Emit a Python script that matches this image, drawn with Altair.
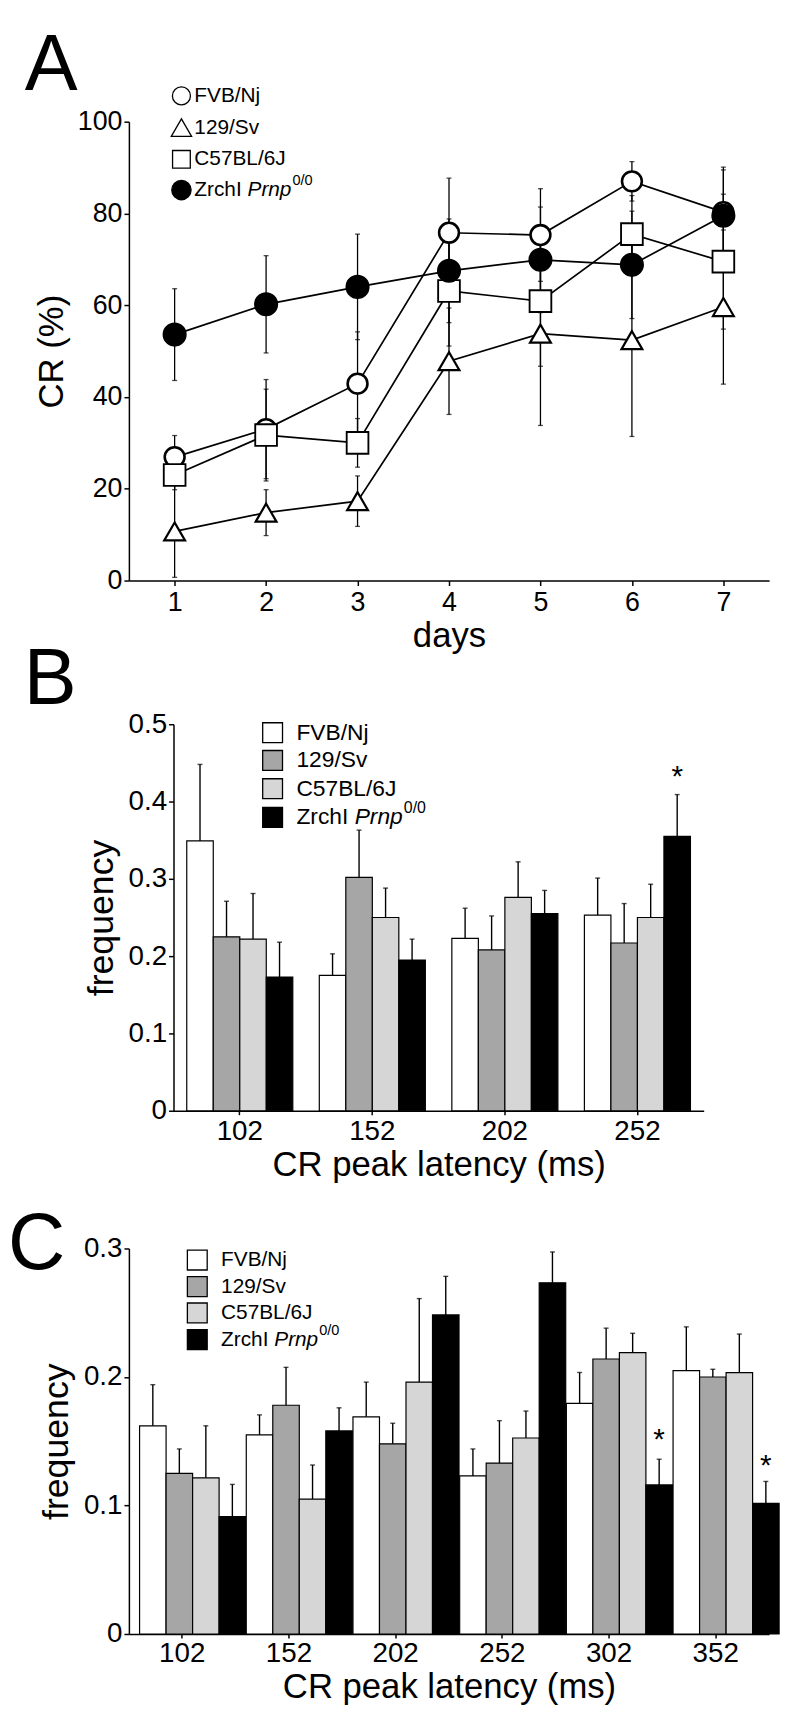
import altair as alt
import pandas as pd

FONT = "Liberation Sans"
strains = ["FVB/Nj", "129/Sv", "C57BL/6J", "ZrchI Prnp0/0"]
legend_plain = ["FVB/Nj", "129/Sv", "C57BL/6J", "ZrchI "]

# ---------------- Panel A data ----------------
days = [1, 2, 3, 4, 5, 6, 7]
a_fvb = [26.9, 33.0, 42.9, 75.8, 75.3, 87.0, 80.3]
a_fvb_err = [4.7, 10.8, 11.3, 11.9, 10.1, 4.3, 9.8]
a_129 = [10.7, 14.8, 17.3, 47.8, 53.8, 52.4, 59.6]
a_129_err = [10.0, 5.0, 5.5, 11.6, 20.0, 21.0, 16.8]
a_c57 = [23.0, 31.7, 30.0, 63.1, 60.9, 75.5, 69.5]
a_c57_err = [3.2, 10.0, 5.3, 12.0, 14.2, 8.4, 14.7]
a_zr = [53.6, 60.2, 64.0, 67.5, 69.9, 68.8, 79.5]
a_zr_err = [10.0, 10.6, 11.5, 11.3, 11.5, 11.7, 10.0]
a_yticks = [0, 20, 40, 60, 80, 100]

# ---------------- Panel B data ----------------
b_groups = ["102", "152", "202", "252"]
b_fvb = [0.349, 0.175, 0.223, 0.253]
b_fvb_err = [0.099, 0.028, 0.039, 0.048]
b_129 = [0.225, 0.302, 0.208, 0.217]
b_129_err = [0.046, 0.061, 0.044, 0.051]
b_c57 = [0.222, 0.250, 0.276, 0.250]
b_c57_err = [0.059, 0.038, 0.046, 0.043]
b_zr = [0.173, 0.195, 0.255, 0.355]
b_zr_err = [0.045, 0.027, 0.030, 0.054]
b_yticks = [0, 0.1, 0.2, 0.3, 0.4, 0.5]
b_star_group = ["252"]
b_star_y = [0.442]

# ---------------- Panel C data ----------------
c_groups = ["102", "152", "202", "252", "302", "352"]
c_fvb = [0.162, 0.155, 0.169, 0.123, 0.1795, 0.205]
c_fvb_err = [0.032, 0.0155, 0.027, 0.021, 0.024, 0.034]
c_129 = [0.125, 0.178, 0.148, 0.133, 0.214, 0.200]
c_129_err = [0.019, 0.0295, 0.016, 0.033, 0.024, 0.006]
c_c57 = [0.1215, 0.105, 0.196, 0.1525, 0.219, 0.2034]
c_c57_err = [0.0405, 0.0265, 0.065, 0.021, 0.015, 0.030]
c_zr = [0.0914, 0.158, 0.2483, 0.2733, 0.116, 0.1017]
c_zr_err = [0.025, 0.018, 0.030, 0.024, 0.020, 0.017]
c_yticks = [0, 0.1, 0.2, 0.3]
c_star_group = ["302", "352"]
c_star_y = [0.157, 0.137]

bar_fills = ["white", "#a6a6a6", "#d6d6d6", "black"]

# ======================= Panel A =======================
rows = []
for s, vals, errs in zip(strains, [a_fvb, a_129, a_c57, a_zr],
                         [a_fvb_err, a_129_err, a_c57_err, a_zr_err]):
    for d, v, e in zip(days, vals, errs):
        rows.append({"strain": s, "day": d, "cr": v, "lo": max(v - e, 0), "hi": v + e})
dfA = pd.DataFrame(rows)

A_W, A_H = 646, 463
xA = alt.X("day:Q", scale=alt.Scale(domain=[0.5, 7.5], nice=False, zero=False),
           axis=alt.Axis(values=days, title="days", format="d", labelFontSize=27,
                         titleFontSize=35, tickSize=5, labelPadding=4, titlePadding=4))
yscaleA = alt.Scale(domain=[0, 100], nice=False)
yaxisA = alt.Axis(values=a_yticks, title="CR (%)", labelFontSize=27, titleFontSize=35,
                  tickSize=5, labelPadding=2, titlePadding=8)

shape_sc = alt.Scale(domain=strains, range=["circle", "triangle-up", "square", "circle"])
fill_sc = alt.Scale(domain=strains, range=["white", "white", "white", "black"])
size_sc = alt.Scale(domain=strains, range=[400, 520, 400, 470])
sw_sc = alt.Scale(domain=strains, range=[2.6, 1.5, 1.5, 1.0])

baseA = alt.Chart(dfA)
errA = baseA.mark_rule(color="black", strokeWidth=1.3).encode(
    x=xA, y=alt.Y("lo:Q", scale=yscaleA, axis=yaxisA, title="CR (%)"), y2="hi:Q")
capLoA = baseA.mark_tick(orient="horizontal", size=5, thickness=1.3, color="black").encode(
    x=xA, y=alt.Y("lo:Q", scale=yscaleA, axis=yaxisA, title="CR (%)"))
capHiA = baseA.mark_tick(orient="horizontal", size=5, thickness=1.3, color="black").encode(
    x=xA, y=alt.Y("hi:Q", scale=yscaleA, axis=yaxisA, title="CR (%)"))
lineA = baseA.mark_line(color="black", strokeWidth=1.7).encode(
    x=xA, y=alt.Y("cr:Q", scale=yscaleA, axis=yaxisA, title="CR (%)"), detail="strain:N")
ptsA = baseA.mark_point(filled=True, opacity=1, fillOpacity=1).encode(
    x=xA, y=alt.Y("cr:Q", scale=yscaleA, axis=yaxisA, title="CR (%)"),
    shape=alt.Shape("strain:N", scale=shape_sc, legend=None),
    fill=alt.Fill("strain:N", scale=fill_sc, legend=None),
    size=alt.Size("strain:N", scale=size_sc, legend=None),
    strokeWidth=alt.StrokeWidth("strain:N", scale=sw_sc, legend=None),
    stroke=alt.value("black"))


def letter(ch, x, y, baseline="alphabetic"):
    return alt.Chart(pd.DataFrame({"t": [ch]})).mark_text(
        font=FONT, fontSize=80, align="left", baseline=baseline, color="black"
    ).encode(text="t:N", x=alt.value(x), y=alt.value(y))


def text_at(txt, x, y, size, style="normal", baseline="middle"):
    return alt.Chart(pd.DataFrame({"t": [txt]})).mark_text(
        font=FONT, fontSize=size, align="left", baseline=baseline, color="black",
        fontStyle=style
    ).encode(text="t:N", x=alt.value(x), y=alt.value(y))


def zr_label(x, y, size):
    w_plain = 2.556 * size
    w_ital = 2.112 * size
    return [
        text_at(legend_plain[3], x, y, size),
        text_at("Prnp", x + w_plain, y, size, style="italic"),
        text_at("0/0", x + w_plain + w_ital + 1, y - 0.42 * size, 0.7 * size),
    ]


legA_layers = []
legA_rows = [-26, 6, 38, 69]
legA_shapes = ["circle", "triangle-up", "square", "circle"]
legA_fill = ["white", "white", "white", "black"]
legA_size = [330, 420, 320, 380]
for i in range(4):
    legA_layers.append(
        alt.Chart(pd.DataFrame({"s": [strains[i]]})).mark_point(
            shape=legA_shapes[i], filled=True, fill=legA_fill[i], stroke="black",
            strokeWidth=1.3, size=legA_size[i], opacity=1
        ).encode(x=alt.value(53), y=alt.value(legA_rows[i]))
    )
    if i < 3:
        legA_layers.append(text_at(legend_plain[i], 66, legA_rows[i], 21))
    else:
        legA_layers.extend(zr_label(66, legA_rows[i], 21))

chA = alt.layer(errA, capLoA, capHiA, lineA, ptsA, *legA_layers,
                letter("A", -105, -95, baseline="top")).properties(width=A_W, height=A_H)


# ======================= Bar panels =======================
def bar_panel(groups, series, errs, yticks, ydomain, width, height, xrange, yrange,
              axis_offset, star_groups, star_ys, leg_x, leg_rows, leg_size, letter_ch,
              letter_xy, label_pad, title_pad):
    rows = []
    for gi, g in enumerate(groups):
        for s, vals, ee in zip(strains, series, errs):
            rows.append({"lat": g, "grp": s, "f": vals[gi], "hi": vals[gi] + ee[gi]})
    df = pd.DataFrame(rows)
    if xrange is not None:
        xsc = alt.Scale(range=xrange, paddingInner=0.2, paddingOuter=0.1)
    else:
        xsc = alt.Scale(paddingInner=0.2, paddingOuter=0.1)
    x = alt.X("lat:N", sort=groups, scale=xsc,
              axis=alt.Axis(title="CR peak latency (ms)", labelAngle=0, labelFontSize=28,
                            titleFontSize=35, tickSize=4, labelPadding=label_pad,
                            titlePadding=title_pad))
    xo = alt.XOffset("grp:N", sort=strains,
                     scale=alt.Scale(domain=strains, paddingInner=0, paddingOuter=0))
    ysc = alt.Scale(domain=ydomain, nice=False, range=yrange)
    yax = alt.Axis(values=yticks, title="frequency", offset=axis_offset,
                   labelExpr="datum.value == 0 ? '0' : format(datum.value, '.1f')",
                   labelFontSize=28, titleFontSize=36, tickSize=5, labelPadding=2,
                   titlePadding=8)
    base = alt.Chart(df)
    bars = base.mark_bar(stroke="black", strokeWidth=1.2).encode(
        x=x, xOffset=xo, y=alt.Y("f:Q", scale=ysc, axis=yax, title="frequency"),
        fill=alt.Fill("grp:N", scale=alt.Scale(domain=strains, range=bar_fills),
                      legend=None))
    err = base.mark_rule(color="black", strokeWidth=1.4).encode(
        x=x, xOffset=xo, y=alt.Y("f:Q", scale=ysc, axis=yax, title="frequency"), y2="hi:Q")
    cap = base.mark_tick(orient="horizontal", size=5, thickness=1.4, color="black").encode(
        x=x, xOffset=xo, y=alt.Y("hi:Q", scale=ysc, axis=yax, title="frequency"))
    sdf = pd.DataFrame({"lat": star_groups, "grp": [strains[3]] * len(star_groups),
                        "ys": star_ys})
    stars = alt.Chart(sdf).mark_text(text="*", font=FONT, fontSize=30, color="black",
                                     baseline="alphabetic", dy=17).encode(
        x=x, xOffset=xo, y=alt.Y("ys:Q", scale=ysc, axis=yax, title="frequency"))
    leg = []
    for i in range(4):
        leg.append(
            alt.Chart(pd.DataFrame({"s": [strains[i]]})).mark_point(
                shape="square", filled=True, fill=bar_fills[i], stroke="black",
                strokeWidth=1.3, size=400, opacity=1
            ).encode(x=alt.value(leg_x), y=alt.value(leg_rows[i]))
        )
        if i < 3:
            leg.append(text_at(legend_plain[i], leg_x + 24, leg_rows[i], leg_size))
        else:
            leg.extend(zr_label(leg_x + 24, leg_rows[i], leg_size))
    return alt.layer(bars, err, cap, stars, *leg,
                     letter(letter_ch, *letter_xy)).properties(width=width, height=height)


chB = bar_panel(b_groups, [b_fvb, b_129, b_c57, b_zr],
                [b_fvb_err, b_129_err, b_c57_err, b_zr_err], b_yticks, [0, 0.5],
                580, 396, [45, 580], [396, 6], -45, b_star_group, b_star_y,
                145, [14.5, 42.5, 71, 100], 23, "B", (-106, -14), 3, 2)

chC = bar_panel(c_groups, [c_fvb, c_129, c_c57, c_zr],
                [c_fvb_err, c_129_err, c_c57_err, c_zr_err], c_yticks, [0, 0.3],
                646, 389, None, [389, 0], 0, c_star_group, c_star_y,
                69, [11.7, 38.5, 65, 92], 21, "C", (-122, 21), 2, 2)

chart = alt.vconcat(chA, chB, chC, spacing=139, bounds="flush").resolve_scale(
    fill="independent"
).properties(
    padding={"left": 0, "top": 11, "right": 0, "bottom": 0}
).configure_view(stroke=None).configure_axis(
    labelFont=FONT, titleFont=FONT, labelColor="black", titleColor="black",
    domainColor="black", tickColor="black", titleFontWeight="normal", grid=False,
    domainWidth=1.5, tickWidth=1.5
)

chart.save("out.html", embed_options={"renderer": "svg", "actions": False})
